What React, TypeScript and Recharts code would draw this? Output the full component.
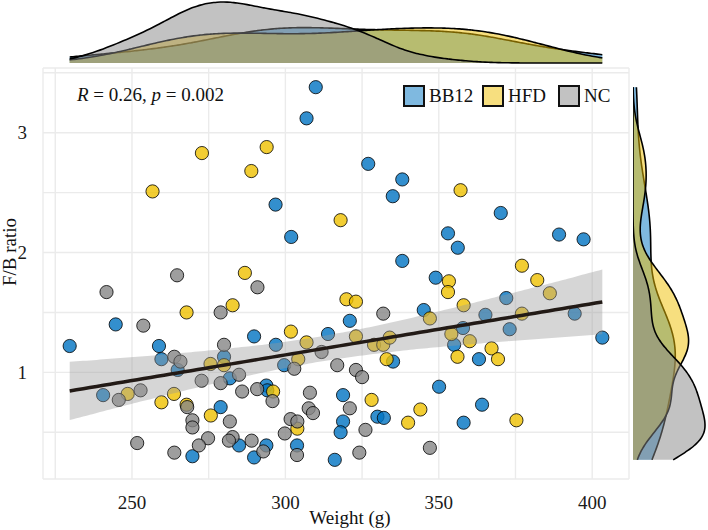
import { ComposedChart, Scatter, Area, Line, XAxis, YAxis, CartesianGrid } from 'recharts';

const FONT = "'Liberation Serif', 'DejaVu Serif', serif";

// weight (g) and F/B ratio per group
const bb12Weight = [309.9, 306.9, 296.8, 301.9, 327.0, 338.1, 335.0, 370.2, 353.0, 356.2, 389.2, 397.2, 338.1, 244.7, 229.7, 258.8, 289.8, 313.9, 296.9, 280.0, 259.6, 264.9, 299.6, 281.9, 240.6, 293.8, 294.1, 278.9, 284.9, 293.8, 289.8, 303.8, 269.7, 316.1, 349.0, 372.0, 345.1, 365.2, 394.3, 321.0, 357.9, 355.0, 373.1, 403.3, 335.1, 363.1, 350.1, 318.8, 364.1, 330.0, 332.1, 318.8, 318.0, 358.1];
const bb12Ratio = [3.38, 3.12, 2.40, 2.13, 2.74, 2.61, 2.47, 2.33, 2.16, 2.04, 2.15, 2.11, 1.93, 1.40, 1.22, 1.22, 1.30, 1.32, 1.23, 1.13, 1.11, 1.02, 1.06, 0.95, 0.81, 0.89, 0.85, 0.71, 0.39, 0.39, 0.29, 0.39, 0.30, 0.27, 1.79, 1.62, 1.52, 1.48, 1.49, 1.43, 1.37, 1.23, 1.36, 1.29, 1.09, 1.11, 0.88, 0.81, 0.73, 0.63, 0.62, 0.59, 0.50, 0.58];

const hfdWeight = [272.8, 293.9, 288.9, 256.7, 357.1, 318.0, 286.8, 267.8, 282.8, 301.8, 306.9, 275.6, 280.0, 304.2, 248.6, 259.6, 263.7, 267.8, 296.0, 275.7, 303.9, 377.1, 353.3, 353.0, 382.1, 386.2, 319.9, 323.0, 358.1, 347.1, 377.1, 323.0, 328.9, 331.9, 334.0, 354.1, 360.1, 333.0, 356.1, 367.2, 369.3, 328.1, 344.0, 340.0, 375.3];
const hfdRatio = [2.83, 2.88, 2.68, 2.51, 2.52, 2.27, 1.83, 1.50, 1.56, 1.34, 1.25, 1.07, 1.06, 1.11, 0.82, 0.75, 0.82, 0.73, 0.84, 0.64, 0.53, 1.89, 1.76, 1.67, 1.77, 1.66, 1.61, 1.59, 1.56, 1.45, 1.49, 1.30, 1.23, 1.23, 1.29, 1.32, 1.26, 1.11, 1.13, 1.20, 1.11, 0.77, 0.69, 0.58, 0.60];

const ncWeight = [264.7, 241.7, 290.9, 278.9, 253.7, 280.0, 263.8, 265.8, 302.9, 311.8, 316.9, 272.7, 278.9, 284.9, 245.7, 252.8, 268.0, 285.9, 290.8, 295.8, 308.0, 307.6, 309.0, 281.9, 269.7, 269.7, 301.7, 303.9, 299.8, 274.8, 271.8, 282.8, 281.6, 289.0, 292.8, 303.8, 251.7, 263.8, 331.9, 323.0, 325.0, 321.0, 326.1, 347.1, 324.1];
const ncRatio = [1.81, 1.67, 1.71, 1.50, 1.39, 1.23, 1.13, 1.09, 1.03, 1.17, 1.06, 0.93, 0.91, 0.98, 0.77, 0.85, 0.71, 0.84, 0.86, 0.76, 0.83, 0.70, 0.66, 0.59, 0.60, 0.54, 0.61, 0.59, 0.49, 0.45, 0.39, 0.46, 0.43, 0.43, 0.34, 0.31, 0.41, 0.33, 1.49, 1.02, 0.96, 0.70, 0.52, 0.37, 0.33];

const groups = ['BB12', 'HFD', 'NC'];
const groupColors = ['#0073C2', '#EFC000', '#868686'];
const xTicks = [225, 250, 275, 300, 325, 350, 375, 400];
const yTicks = [0.5, 1, 1.5, 2, 2.5, 3, 3.5];
const X_DOMAIN: [number, number] = [221, 412];
const Y_DOMAIN: [number, number] = [0.11, 3.54];

const weights = [bb12Weight, hfdWeight, ncWeight];
const ratios = [bb12Ratio, hfdRatio, ncRatio];

const zip = (xs: number[], ys: number[]) => xs.map((x, i) => ({ x, y: ys[i] }));

// --- stats, same as ggplot: lm fit with 95% CI, gaussian kde with bw.nrd0
const mean = (v: number[]) => v.reduce((a, b) => a + b, 0) / v.length;
function quantile(v: number[], p: number) {
  const s = [...v].sort((a, b) => a - b);
  const h = (s.length - 1) * p;
  const lo = Math.floor(h);
  return s[lo] + (h - lo) * ((s[lo + 1] ?? s[lo]) - s[lo]);
}
function bwNrd0(v: number[]) {
  const m = mean(v);
  const sd = Math.sqrt(v.reduce((a, b) => a + (b - m) ** 2, 0) / (v.length - 1));
  const iqr = quantile(v, 0.75) - quantile(v, 0.25);
  return 0.9 * Math.min(sd, iqr / 1.34) * Math.pow(v.length, -0.2);
}
function kde(v: number[], at: number) {
  const bw = bwNrd0(v);
  let s = 0;
  for (const xi of v) s += Math.exp(-0.5 * ((at - xi) / bw) ** 2);
  return s / (v.length * bw * Math.sqrt(2 * Math.PI));
}
function densityTable(vals: number[][], key: string) {
  const all = vals.flat();
  const lo = Math.min(...all);
  const hi = Math.max(...all);
  const n = 160;
  return Array.from({ length: n }, (_, i) => {
    const at = lo + ((hi - lo) * i) / (n - 1);
    return { [key]: at, bb12: kde(vals[0], at), hfd: kde(vals[1], at), nc: kde(vals[2], at) };
  });
}

const allX = weights.flat();
const allY = ratios.flat();
const n = allX.length;
const mx = mean(allX);
const my = mean(allY);
const sxx = allX.reduce((a, x) => a + (x - mx) ** 2, 0);
const sxy = allX.reduce((a, x, i) => a + (x - mx) * (allY[i] - my), 0);
const slope = sxy / sxx;
const icpt = my - slope * mx;
const sRes = Math.sqrt(allX.reduce((a, x, i) => a + (allY[i] - icpt - slope * x) ** 2, 0) / (n - 2));
const tq = 1.979;
const xMin = Math.min(...allX);
const xMax = Math.max(...allX);
const fitData = Array.from({ length: 80 }, (_, i) => {
  const x = xMin + ((xMax - xMin) * i) / 79;
  const fit = icpt + slope * x;
  const se = sRes * Math.sqrt(1 / n + (x - mx) ** 2 / sxx);
  return { x, fit, band: [fit - tq * se, fit + tq * se] };
});

const topData = densityTable(weights, 'x');
const rightData = densityTable(ratios, 'y');
const topMax = Math.max(...topData.map((d) => Math.max(d.bb12, d.hfd, d.nc)));
const rightMax = Math.max(...rightData.map((d) => Math.max(d.bb12, d.hfd, d.nc)));
const densKeys = ['bb12', 'hfd', 'nc'];

const dot = (fill: string) => (p: any) => (
  <circle cx={p.cx} cy={p.cy} r={6.6} fill={fill} fillOpacity={0.8} stroke="#000" strokeOpacity={0.8} strokeWidth={1} />
);

const XTick = (p: any) => {
  const v = p.payload.value;
  if (v % 50 !== 0) return <g />;
  return (
    <text x={p.x} y={p.y + 8} dy="0.75em" textAnchor="middle" fontSize={19} fontFamily={FONT} fill="#1a1a1a">
      {v}
    </text>
  );
};

const YTick = (p: any) => {
  const v = p.payload.value;
  if (!Number.isInteger(v)) return <g />;
  return (
    <text x={p.x - 8} y={p.y} dy="0.35em" textAnchor="end" fontSize={19} fontFamily={FONT} fill="#1a1a1a">
      {v}
    </text>
  );
};

export default function App() {
  return (
    <div style={{ position: 'absolute', left: 0, top: 0, width: 708, height: 530, background: '#fff', fontFamily: FONT }}>
      {/* main scatter */}
      <div style={{ position: 'absolute', left: 0, top: 0 }}>
        <ComposedChart width={708} height={530} margin={{ top: 68, right: 79, bottom: 0, left: 0 }}>
          <CartesianGrid stroke="#ebebeb" strokeWidth={1.4} />
          <XAxis
            type="number"
            dataKey="x"
            domain={X_DOMAIN}
            ticks={xTicks}
            interval={0}
            allowDataOverflow
            height={51}
            axisLine={false}
            tickLine={false}
            tick={XTick}
          />
          <YAxis
            type="number"
            dataKey="y"
            domain={Y_DOMAIN}
            ticks={yTicks}
            interval={0}
            allowDataOverflow
            width={43}
            axisLine={false}
            tickLine={false}
            tick={YTick}
          />
          {groups.map((g, i) => (
            <Scatter
              key={g}
              name={g}
              data={zip(weights[i], ratios[i])}
              shape={dot(groupColors[i])}
              isAnimationActive={false}
            />
          ))}
          <Area
            data={fitData}
            dataKey="band"
            type="monotone"
            stroke="none"
            fill="#999999"
            fillOpacity={0.4}
            zIndex={700}
            isAnimationActive={false}
          />
          <Line
            data={fitData}
            dataKey="fit"
            type="linear"
            stroke="#221a16"
            strokeWidth={3.5}
            dot={false}
            zIndex={800}
            isAnimationActive={false}
          />
        </ComposedChart>
      </div>

      {/* top marginal density */}
      <div style={{ position: 'absolute', left: 0, top: 0 }}>
        <ComposedChart width={708} height={64} data={topData} margin={{ top: 2, right: 79, bottom: 1, left: 43 }}>
          <XAxis type="number" dataKey="x" domain={X_DOMAIN} hide allowDataOverflow />
          <YAxis type="number" domain={[0, topMax]} hide />
          {densKeys.map((k, i) => (
            <Area
              key={k}
              dataKey={k}
              type="monotone"
              fill={groupColors[i]}
              fillOpacity={0.5}
              stroke="#000"
              strokeWidth={1.6}
              isAnimationActive={false}
            />
          ))}
        </ComposedChart>
      </div>

      {/* right marginal density */}
      <div style={{ position: 'absolute', left: 633, top: 0 }}>
        <ComposedChart layout="vertical" width={75} height={530} data={rightData} margin={{ top: 68, right: 3, bottom: 51, left: 0 }}>
          <XAxis type="number" domain={[0, rightMax]} hide />
          <YAxis type="number" dataKey="y" domain={Y_DOMAIN} hide reversed allowDataOverflow />
          {densKeys.map((k, i) => (
            <Area
              key={k}
              dataKey={k}
              type="monotone"
              fill={groupColors[i]}
              fillOpacity={0.5}
              stroke="#000"
              strokeWidth={1.6}
              isAnimationActive={false}
            />
          ))}
        </ComposedChart>
      </div>

      {/* correlation label */}
      <div style={{ position: 'absolute', left: 77, top: 83, fontSize: 19, lineHeight: '24px', color: '#111', whiteSpace: 'nowrap' }}>
        <i>R</i> = 0.26, <i>p</i> = 0.002
      </div>

      {/* legend */}
      {groups.map((g, i) => {
        const left = [403, 482, 558][i];
        return (
          <div key={g} style={{ position: 'absolute', left, top: 85, display: 'flex', alignItems: 'center', height: 22 }}>
            <div
              style={{
                width: 18,
                height: 18,
                border: '2px solid #111',
                background: groupColors[i] + '80',
                marginRight: 4,
              }}
            />
            <span style={{ fontSize: 19, color: '#111' }}>{g}</span>
          </div>
        );
      })}

      {/* axis titles */}
      <div style={{ position: 'absolute', left: 350, top: 507, transform: 'translateX(-50%)', fontSize: 19, color: '#111', whiteSpace: 'nowrap' }}>
        Weight (g)
      </div>
      <div
        style={{
          position: 'absolute',
          left: 10,
          top: 252,
          transform: 'translate(-50%, -50%) rotate(-90deg)',
          fontSize: 19,
          color: '#111',
          whiteSpace: 'nowrap',
        }}
      >
        F/B ratio
      </div>
    </div>
  );
}
